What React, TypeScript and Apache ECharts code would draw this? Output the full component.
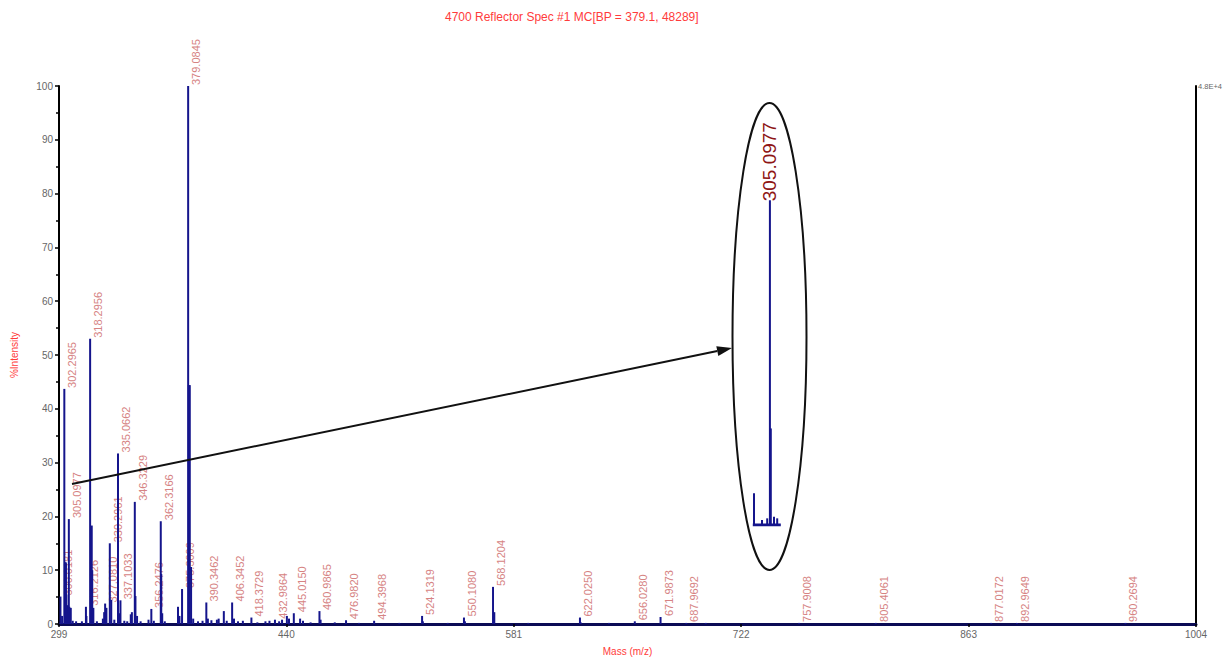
import React, { useEffect, useRef } from "react";
import * as echarts from "echarts";

// ---------- data ----------
const titleText = "4700 Reflector Spec #1 MC[BP = 379.1, 48289]";
const xTicks = [299, 440, 581, 722, 863, 1004];
const rightAxisTopLabel = "4.8E+4";

const peakMz = [
  299.9, 300.9, 302.3, 303.1, 303.3, 303.6, 304.1, 305.1, 305.4, 306.3, 307.5, 309.6, 313.2,
  315.7, 316.0, 318.3, 319.3, 319.6, 320.3, 322.5, 326.2, 327.0, 327.6, 328.4, 330.5, 331.4,
  333.3, 335.6, 336.2, 337.1, 339.5, 341.3, 343.5, 344.2, 346.0, 346.4, 347.4, 349.6, 354.5,
  356.25, 357.8, 362.1, 362.4, 363.0, 364.6, 372.8, 373.7, 375.3, 379.08, 379.5, 380.09, 380.9,
  382.2, 385.2, 388.0, 390.35, 391.3, 393.5, 396.9, 398.0, 401.2, 403.0, 406.35, 407.5, 410.0,
  413.0, 418.3, 422.0, 427.0, 429.5, 432.9, 435.5, 437.3, 440.3, 441.6, 444.6, 448.5, 450.3,
  455.0, 460.5, 461.2, 470.0, 476.98, 485.0, 494.4, 510.0, 524.13, 524.6, 540.0, 550.1, 550.7,
  568.12, 568.9, 590.0, 622.02, 622.5, 640.0, 656.03, 671.99, 687.97, 700.0, 757.9, 805.41,
  877.02, 892.96, 960.27,
];
const peakIntensity = [
  5.1, 1.5, 43.7, 11.5, 11.3, 5.5, 3.5, 19.5, 3.2, 3.0, 0.6, 0.5, 0.5,
  3.2, 1.5, 53.0, 18.3, 10.0, 3.0, 0.5, 1.0, 2.2, 3.8, 3.0, 15.0, 4.5,
  0.8, 31.7, 2.0, 4.4, 0.6, 0.5, 1.8, 2.2, 22.7, 5.2, 1.5, 0.5, 0.8,
  2.8, 0.6, 19.1, 9.3, 2.0, 0.5, 3.2, 1.5, 6.5, 100, 44.4, 44.4, 10.6,
  1.0, 0.5, 0.6, 4.0, 1.0, 0.7, 0.8, 1.0, 2.4, 0.6, 4.0, 1.0, 0.5,
  0.6, 1.2, 0.3, 0.5, 0.6, 0.8, 0.5, 0.8, 1.5, 1.0, 2.0, 1.0, 0.6,
  0.3, 2.4, 0.8, 0.3, 0.7, 0.2, 0.6, 0.2, 1.5, 0.5, 0.2, 1.2, 0.5,
  6.9, 2.2, 0.2, 1.2, 0.3, 0.2, 0.5, 1.3, 0.2, 0.2, 0.2, 0.2,
  0.2, 0.2, 0.2,
];

const labelMz = [
  299.9, 302.3, 305.1, 315.7, 318.3, 327.6, 330.5, 335.6, 337.1, 346.0, 356.25, 362.1, 375.3,
  379.08, 390.35, 406.35, 418.3, 432.9, 444.6, 460.5, 476.98, 494.4, 524.13, 550.1, 568.12,
  622.02, 656.03, 671.99, 687.97, 757.9, 805.41, 877.02, 892.96, 960.27,
];
const labelText = [
  "300.0181", "302.2965", "305.0977", "316.2126", "318.2956", "327.0810", "330.2961",
  "335.0662", "337.1033", "346.3229", "356.2476", "362.3166", "375.3009", "379.0845",
  "390.3462", "406.3452", "418.3729", "432.9864", "445.0150", "460.9865", "476.9820",
  "494.3968", "524.1319", "550.1080", "568.1204", "622.0250", "656.0280", "671.9873",
  "687.9692", "757.9008", "805.4061", "877.0172", "892.9649", "960.2694",
];

// magnified inset of the 305.0977 region
const insetMz = [304.7, 304.9, 305.03, 305.0977, 305.12, 305.2, 305.28];
const insetIntensity = [1.9, 0.3, 0.4, 19.5, 5.8, 0.5, 0.4];
const insetBaseline = [304.67, 305.37];
const insetLabelMz = [305.0977];
const insetLabelText = ["305.0977"];

// ---------- helpers ----------
const PEAK_COLOR = "#15158c";
const LABEL_FONT = '"Liberation Sans", Arial, sans-serif';

function stickSeries(xAxisIndex: number, yAxisIndex: number, mz: number[], inten: number[], width: number) {
  return {
    type: "custom",
    xAxisIndex,
    yAxisIndex,
    silent: true,
    z: 3,
    data: mz.map((m, i) => [m, inten[i]]),
    renderItem: (params: any, api: any) => {
      const x = api.value(0);
      const y = api.value(1);
      const p0 = api.coord([x, 0]);
      const p1 = api.coord([x, y]);
      return {
        type: "line",
        shape: { x1: p0[0], y1: p0[1], x2: p1[0], y2: p1[1] },
        style: { stroke: PEAK_COLOR, lineWidth: width },
      };
    },
  };
}

function labelSeries(
  xAxisIndex: number,
  yAxisIndex: number,
  mz: number[],
  texts: string[],
  srcMz: number[],
  srcInt: number[],
  fontSize: number,
  color: string,
  dx: number,
  dy: number
) {
  const heights = mz.map((m) => {
    const idx = srcMz.indexOf(m);
    return idx >= 0 ? srcInt[idx] : 0;
  });
  return {
    type: "custom",
    xAxisIndex,
    yAxisIndex,
    silent: true,
    z: 2,
    data: mz.map((m, i) => [m, heights[i]]),
    renderItem: (params: any, api: any) => {
      const p = api.coord([api.value(0), api.value(1)]);
      return {
        type: "text",
        x: p[0] + dx,
        y: p[1] + dy,
        rotation: Math.PI / 2,
        style: {
          text: texts[params.dataIndex],
          fill: color,
          font: `${fontSize}px ${LABEL_FONT}`,
          align: "left",
          verticalAlign: "middle",
        },
      };
    },
  };
}

// arrow geometry (annotation)
const arrowStart = [72, 484];
const arrowTip = [732, 348];

export default function App() {
  const ref = useRef<HTMLDivElement>(null);

  useEffect(() => {
    if (!ref.current) return;
    const chart = echarts.init(ref.current, undefined, { renderer: "svg" });

    const dx = arrowTip[0] - arrowStart[0];
    const dy = arrowTip[1] - arrowStart[1];
    const len = Math.sqrt(dx * dx + dy * dy);
    const ux = dx / len;
    const uy = dy / len;
    const headLen = 15;
    const headHalf = 5;
    const bx = arrowTip[0] - ux * headLen;
    const by = arrowTip[1] - uy * headLen;

    chart.setOption({
      animation: false,
      backgroundColor: "#ffffff",
      title: {
        text: titleText,
        left: 440,
        top: 6,
        textStyle: { color: "#ff3b3b", fontSize: 12, fontWeight: "normal", fontFamily: LABEL_FONT },
      },
      grid: [
        { left: 59, right: 28, top: 86, bottom: 35, outerBoundsMode: "none", containLabel: false },
        { left: 742, width: 40, top: 192, height: 333, outerBoundsMode: "none", containLabel: false },
      ],
      xAxis: [
        {
          type: "value",
          gridIndex: 0,
          min: 299,
          max: 1004,
          interval: 141,
          name: "Mass (m/z)",
          nameLocation: "middle",
          nameGap: 22,
          nameTextStyle: { color: "#ff3b3b", fontSize: 10, fontFamily: LABEL_FONT },
          axisLine: { show: true, onZero: false, lineStyle: { color: "#0b0b55", width: 3 } },
          axisTick: { show: true, length: 3, lineStyle: { color: "#000", width: 1.5 } },
          axisLabel: {
            color: "#666",
            fontSize: 10,
            margin: 5,
            fontFamily: LABEL_FONT,
            showMinLabel: true,
            showMaxLabel: true,
            customValues: xTicks,
            formatter: (v: number) => String(v),
          },
          splitLine: { show: false },
        },
        {
          type: "value",
          gridIndex: 1,
          min: 304.4,
          max: 305.4,
          show: false,
        },
      ],
      yAxis: [
        {
          type: "value",
          gridIndex: 0,
          min: 0,
          max: 100,
          interval: 10,
          name: "%Intensity",
          nameLocation: "middle",
          nameGap: 40,
          nameRotate: 90,
          nameTextStyle: { color: "#ff3b3b", fontSize: 10, fontFamily: LABEL_FONT },
          axisLine: { show: true, lineStyle: { color: "#000", width: 2 } },
          axisTick: { show: true, length: 4, lineStyle: { color: "#000", width: 1.5 } },
          minorTick: { show: true, splitNumber: 2, length: 3, lineStyle: { color: "#000", width: 1.5 } },
          axisLabel: { color: "#666", fontSize: 10, margin: 6, fontFamily: LABEL_FONT },
          splitLine: { show: false },
        },
        {
          type: "value",
          gridIndex: 0,
          position: "right",
          min: 0,
          max: 100,
          interval: 100,
          axisLine: { show: true, lineStyle: { color: "#000", width: 2 } },
          axisTick: { show: false },
          axisLabel: {
            color: "#666",
            fontSize: 7.5,
            margin: 2,
            fontFamily: LABEL_FONT,
            formatter: (v: number) => (v === 100 ? rightAxisTopLabel : ""),
          },
          splitLine: { show: false },
        },
        {
          type: "value",
          gridIndex: 1,
          min: 0,
          max: 20,
          show: false,
        },
      ],
      series: [
        stickSeries(0, 0, peakMz, peakIntensity, 2),
        labelSeries(0, 0, labelMz, labelText, peakMz, peakIntensity, 11, "#d68383", 8, -1),
        {
          type: "line",
          xAxisIndex: 1,
          yAxisIndex: 2,
          symbol: "none",
          silent: true,
          data: insetBaseline.map((m) => [m, 0]),
          lineStyle: { color: PEAK_COLOR, width: 3 },
        },
        stickSeries(1, 2, insetMz, insetIntensity, 2),
        labelSeries(1, 2, insetLabelMz, insetLabelText, insetMz, insetIntensity, 19, "#8e1515", 0, 1),
      ],
      graphic: [
        {
          type: "ellipse",
          shape: { cx: 769.5, cy: 336.5, rx: 37, ry: 233.5 },
          style: { fill: "none", stroke: "#111", lineWidth: 2 },
          z: 10,
        },
        {
          type: "line",
          shape: { x1: arrowStart[0], y1: arrowStart[1], x2: bx, y2: by },
          style: { stroke: "#111", lineWidth: 2 },
          z: 10,
        },
        {
          type: "polygon",
          shape: {
            points: [
              [arrowTip[0], arrowTip[1]],
              [bx - uy * headHalf, by + ux * headHalf],
              [bx + uy * headHalf, by - ux * headHalf],
            ],
          },
          style: { fill: "#111" },
          z: 10,
        },
      ],
    });

    return () => chart.dispose();
  }, []);

  return (
    <div
      ref={ref}
      style={{ position: "fixed", left: 0, top: 0, width: 1224, height: 659, background: "#fff" }}
    />
  );
}
